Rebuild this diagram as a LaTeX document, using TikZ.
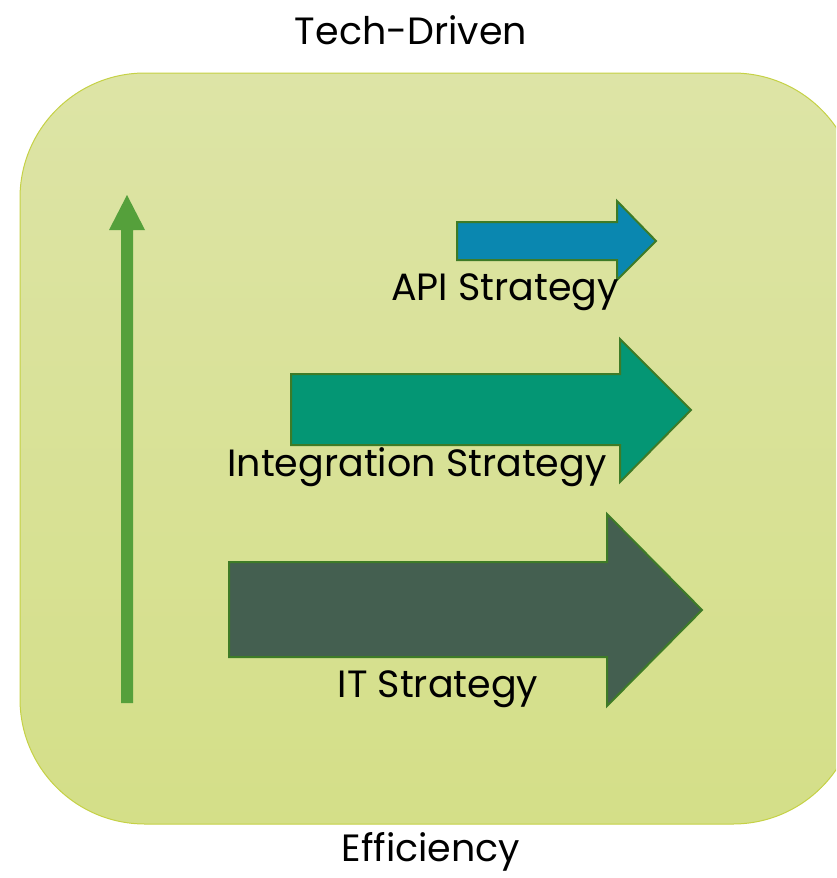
\documentclass[tikz,border=0pt]{standalone}
\usepackage{fontspec}
\setmainfont{Poppins}
\definecolor{bgtop}{HTML}{DDE4A6}
\definecolor{bgbot}{HTML}{D4DF88}
\definecolor{bgline}{HTML}{C5D145}
\definecolor{upgreen}{HTML}{55A03B}
\definecolor{edgegreen}{HTML}{3E7B27}
\definecolor{apiblue}{HTML}{0A87B0}
\definecolor{intgreen}{HTML}{049674}
\definecolor{itgreen}{HTML}{445F50}
\tikzset{
  blockarrow/.style={draw=edgegreen, line width=2pt, line join=miter},
  lbl/.style={font=\fontsize{38}{44}\selectfont, text=black, inner sep=0pt}
}
\begin{document}
\begin{tikzpicture}[x=1pt,y=-1pt]
\useasboundingbox (0,0) rectangle (836,878);
\begin{scope}
\clip (0,0) rectangle (836,878);
\draw[bgline, line width=1pt, top color=bgtop, bottom color=bgbot, rounded corners=125pt]
  (20,73) rectangle (858,824);
\end{scope}
% vertical arrow
\fill[upgreen] (121,703) -- (121,230) -- (109,230) -- (127,195) -- (145,230) -- (133,230) -- (133,703) -- cycle;
% API arrow
\draw[blockarrow, fill=apiblue] (457,222) -- (617,222) -- (617,201) -- (656,241) -- (617,280) -- (617,260) -- (457,260) -- cycle;
% Integration arrow
\draw[blockarrow, fill=intgreen] (291,374) -- (620,374) -- (620,339) -- (691,410) -- (620,482) -- (620,445) -- (291,445) -- cycle;
% IT arrow
\draw[blockarrow, fill=itgreen] (229,562) -- (607,562) -- (607,514) -- (702,610) -- (607,706) -- (607,657) -- (229,657) -- cycle;
% labels
\node[lbl] (top) at (411,30) {Tech-Driven};
\node[lbl] (bottom) at (431,852) {Efficiency};
\node[lbl] (api) at (505,292) {API Strategy};
\node[lbl] (integ) at (417,467) {Integration Strategy};
\node[lbl] (it) at (438,689) {IT Strategy};
\end{tikzpicture}
\end{document}
